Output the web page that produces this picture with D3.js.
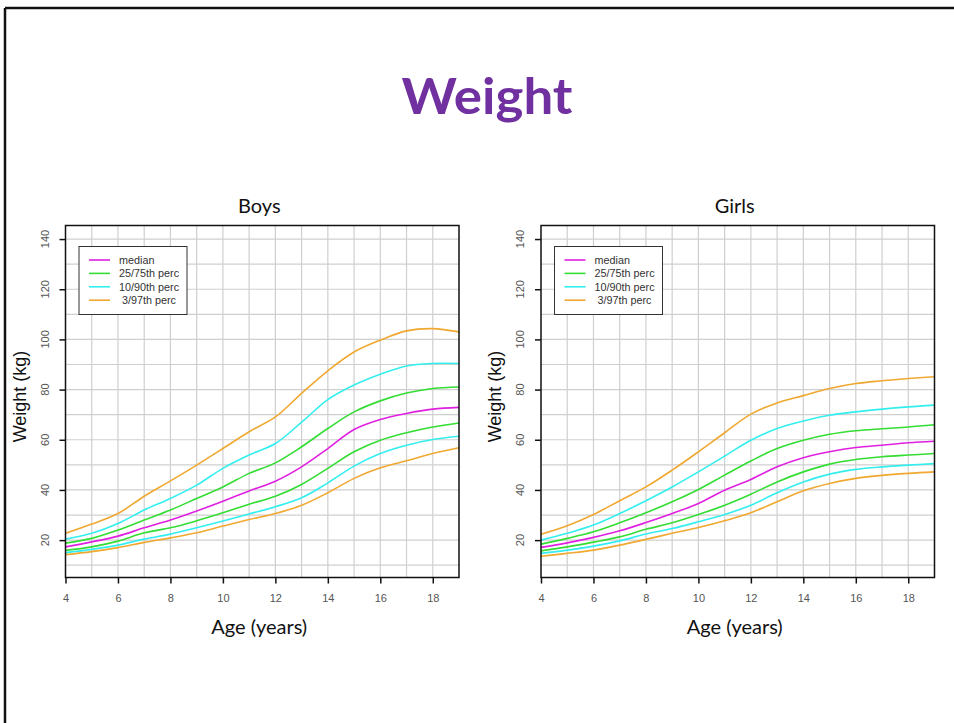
<!DOCTYPE html>
<html>
<head>
<meta charset="utf-8">
<script src="https://cdn.jsdelivr.net/npm/d3@7"></script>
<style>
  html, body { margin: 0; padding: 0; background: #fff; }
  svg { display: block; }
</style>
</head>
<body>
<svg id="chart" width="954" height="723"></svg>
<script>
// ages read every year
const ages = [4, 5, 6, 7, 8, 9, 10, 11, 12, 13, 14, 15, 16, 17, 18, 19];

// boys, kg
const boysP3  = [14.2, 15.4, 17.0, 19.1, 20.9, 22.9, 25.6, 28.2, 30.6, 33.9, 38.9, 44.6, 48.8, 51.6, 54.5, 56.8];
const boysP10 = [15.0, 16.3, 18.0, 20.4, 22.4, 24.9, 27.6, 30.4, 33.3, 36.9, 42.8, 49.5, 54.5, 57.8, 60.1, 61.4];
const boysP25 = [15.9, 17.3, 19.6, 22.9, 24.9, 27.7, 30.9, 34.3, 37.5, 42.2, 48.6, 55.2, 59.8, 62.8, 65.1, 66.7];
const boysP50 = [17.3, 19.3, 21.6, 24.9, 28.0, 31.6, 35.5, 39.6, 43.5, 49.2, 56.5, 64.1, 68.1, 70.5, 72.2, 72.9];
const boysP75 = [18.8, 20.7, 24.0, 28.0, 32.0, 36.6, 41.2, 46.6, 50.8, 57.2, 64.5, 71.1, 75.5, 78.6, 80.4, 81.0];
const boysP90 = [20.4, 22.7, 26.6, 32.0, 36.6, 41.9, 48.6, 53.9, 58.5, 67.0, 76.0, 81.8, 86.1, 89.4, 90.4, 90.4];
const boysP97 = [22.7, 26.4, 30.6, 37.5, 43.6, 49.9, 56.5, 63.2, 69.1, 78.5, 87.5, 95.0, 99.7, 103.4, 104.3, 103.0];

// girls, kg
const girlsP3  = [13.6, 14.7, 16.0, 18.0, 20.3, 22.7, 25.0, 27.7, 30.9, 35.3, 39.7, 42.6, 44.6, 45.8, 46.6, 47.2];
const girlsP10 = [14.7, 16.0, 17.6, 19.7, 22.4, 24.6, 27.3, 30.2, 33.9, 38.9, 43.2, 46.3, 48.2, 49.2, 49.9, 50.5];
const girlsP25 = [15.7, 17.3, 19.2, 21.3, 24.3, 26.9, 30.2, 33.9, 38.3, 43.2, 47.2, 50.3, 52.1, 53.2, 53.9, 54.5];
const girlsP50 = [17.1, 18.9, 21.1, 23.7, 27.0, 30.6, 34.6, 39.9, 44.2, 49.2, 52.8, 55.2, 56.9, 57.8, 58.8, 59.4];
const girlsP75 = [18.4, 20.7, 23.3, 26.9, 30.9, 35.3, 40.2, 45.9, 51.5, 56.5, 59.8, 62.2, 63.6, 64.4, 65.1, 66.0];
const girlsP90 = [20.0, 22.7, 26.0, 30.6, 35.7, 41.2, 47.2, 53.5, 59.8, 64.5, 67.5, 69.8, 71.1, 72.2, 73.1, 73.8];
const girlsP97 = [22.3, 25.7, 30.2, 35.7, 41.2, 47.9, 55.2, 62.8, 70.2, 74.7, 77.6, 80.4, 82.4, 83.5, 84.4, 85.1];

const legendLabels = ["median", "25/75th perc", "10/90th perc", " 3/97th perc"];
const xTicks = [4, 6, 8, 10, 12, 14, 16, 18];
const yTicks = [20, 40, 60, 80, 100, 120, 140];

const COL = { med: "#e020e0", p25: "#33dd33", p10: "#33eeee", p3: "#f0a830" };

const svg = d3.select("#chart");

// slide frame
svg.append("line").attr("x1", 5).attr("x2", 954).attr("y1", 8).attr("y2", 8)
  .attr("stroke", "#111").attr("stroke-width", 2.5);
svg.append("line").attr("x1", 5).attr("x2", 5).attr("y1", 8).attr("y2", 723)
  .attr("stroke", "#111").attr("stroke-width", 2.5);

svg.append("text")
  .attr("x", 487).attr("y", 114)
  .attr("text-anchor", "middle")
  .attr("font-family", "Lato, 'Open Sans', sans-serif")
  .attr("font-weight", "bold")
  .attr("font-size", 50)
  .attr("fill", "#7030a0")
  .attr("textLength", 171).attr("lengthAdjust", "spacingAndGlyphs")
  .text("Weight");

function panel(left, title, series) {
  const x = d3.scaleLinear().domain([4, 19]).range([left, left + 393.5]);
  const y = d3.scaleLinear().domain([5.1, 145.4]).range([577.5, 225.5]);
  const g = svg.append("g");

  // grid
  g.selectAll(".vg").data(d3.range(5, 19)).join("line")
    .attr("x1", d => x(d)).attr("x2", d => x(d))
    .attr("y1", y.range()[1]).attr("y2", y.range()[0])
    .attr("stroke", "#cfcfcf").attr("stroke-width", 1.2);
  g.selectAll(".hg").data(d3.range(10, 150, 10)).join("line")
    .attr("x1", x.range()[0]).attr("x2", x.range()[1])
    .attr("y1", d => y(d)).attr("y2", d => y(d))
    .attr("stroke", "#cfcfcf").attr("stroke-width", 1.2);

  // curves
  const line = d3.line().x((d, i) => x(ages[i])).y(d => y(d)).curve(d3.curveCatmullRom.alpha(0.5));
  series.forEach(s => {
    g.append("path").datum(s.v)
      .attr("d", line)
      .attr("fill", "none")
      .attr("stroke", s.c)
      .attr("stroke-width", 1.6);
  });

  // frame
  g.append("rect")
    .attr("x", x.range()[0]).attr("y", y.range()[1])
    .attr("width", x.range()[1] - x.range()[0])
    .attr("height", y.range()[0] - y.range()[1])
    .attr("fill", "none").attr("stroke", "#111").attr("stroke-width", 1.5);

  // axes
  const xa = g.append("g").attr("transform", `translate(0,${y.range()[0]})`)
    .call(d3.axisBottom(x).tickValues(xTicks).tickSize(6).tickPadding(11));
  xa.select(".domain").remove();
  xa.selectAll("line").attr("stroke", "#111").attr("stroke-width", 1.5);
  xa.selectAll("text").attr("font-family", "Arial, 'Liberation Sans', sans-serif")
    .attr("font-size", 11).attr("fill", "#555");

  const ya = g.append("g").attr("transform", `translate(${x.range()[0]},0)`)
    .call(d3.axisLeft(y).tickValues(yTicks).tickSize(6).tickFormat(""));
  ya.select(".domain").remove();
  ya.selectAll("line").attr("stroke", "#111").attr("stroke-width", 1.5);
  g.selectAll(".ylab").data(yTicks).join("text")
    .attr("transform", d => `translate(${x.range()[0] - 17},${y(d)}) rotate(-90)`)
    .attr("text-anchor", "middle")
    .attr("font-family", "Arial, 'Liberation Sans', sans-serif")
    .attr("font-size", 11).attr("fill", "#555")
    .text(d => d);

  // titles
  g.append("text")
    .attr("x", (x.range()[0] + x.range()[1]) / 2 - 3).attr("y", 213)
    .attr("text-anchor", "middle")
    .attr("font-family", "Lato, 'Open Sans', sans-serif")
    .attr("font-size", 20).attr("fill", "#111")
    .text(title);
  g.append("text")
    .attr("x", (x.range()[0] + x.range()[1]) / 2 - 3).attr("y", 634)
    .attr("text-anchor", "middle")
    .attr("font-family", "Lato, 'Open Sans', sans-serif")
    .attr("font-size", 20).attr("fill", "#111")
    .text("Age (years)");
  g.append("text")
    .attr("transform", `translate(${x.range()[0] - 40},${(y.range()[0] + y.range()[1]) / 2 - 5}) rotate(-90)`)
    .attr("text-anchor", "middle")
    .attr("font-family", "Arial, 'Liberation Sans', sans-serif")
    .attr("font-size", 18).attr("fill", "#111")
    .text("Weight (kg)");

  // legend
  const lx = x.range()[0] + 13.5, ly = 246.5;
  const lg = g.append("g").attr("transform", `translate(${lx},${ly})`);
  lg.append("rect").attr("width", 108).attr("height", 68)
    .attr("fill", "#fff").attr("stroke", "#333").attr("stroke-width", 1);
  const lcols = [COL.med, COL.p25, COL.p10, COL.p3];
  legendLabels.forEach((t, i) => {
    const yy = 13.5 + i * 13.4;
    lg.append("line").attr("x1", 10).attr("x2", 31).attr("y1", yy).attr("y2", yy)
      .attr("stroke", lcols[i]).attr("stroke-width", 1.6);
    lg.append("text").attr("x", 40).attr("y", yy + 4)
      .attr("font-family", "Arial, 'Liberation Sans', sans-serif")
      .attr("font-size", 10.8).attr("fill", "#333")
      .attr("xml:space", "preserve")
      .style("white-space", "pre")
      .text(t);
  });
}

panel(65.5, "Boys", [
  { v: boysP3, c: COL.p3 }, { v: boysP97, c: COL.p3 },
  { v: boysP10, c: COL.p10 }, { v: boysP90, c: COL.p10 },
  { v: boysP25, c: COL.p25 }, { v: boysP75, c: COL.p25 },
  { v: boysP50, c: COL.med }
]);
panel(541, "Girls", [
  { v: girlsP3, c: COL.p3 }, { v: girlsP97, c: COL.p3 },
  { v: girlsP10, c: COL.p10 }, { v: girlsP90, c: COL.p10 },
  { v: girlsP25, c: COL.p25 }, { v: girlsP75, c: COL.p25 },
  { v: girlsP50, c: COL.med }
]);
</script>
</body>
</html>
